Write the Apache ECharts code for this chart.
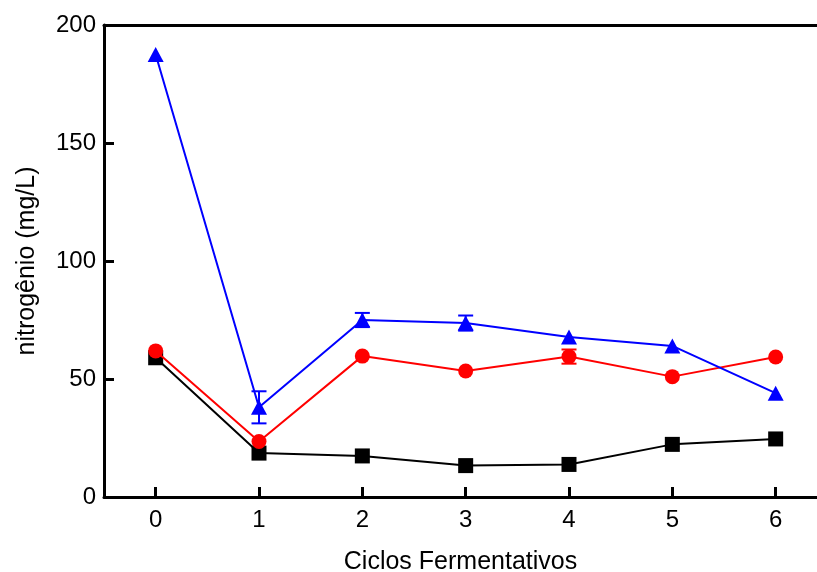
<!DOCTYPE html>
<html>
<head>
<meta charset="utf-8">
<script src="https://cdn.jsdelivr.net/npm/echarts@6/dist/echarts.min.js"></script>
<style>html,body{margin:0;padding:0;background:#fff}#c{width:817px;height:572px}</style>
</head>
<body>
<div id="c"></div>
<script>
var categories = [0, 1, 2, 3, 4, 5, 6];
var blackValues = [59, 18.6, 17.4, 13.3, 13.8, 22.3, 24.6];
var redValues = [61.9, 23.5, 59.7, 53.4, 59.5, 51, 59.3];
var blueValues = [187.5, 38, 75, 73.7, 67.8, 64, 44];
var blueErrors = [0, 6.8, 3, 3.2, 0, 0, 0];
var redErrors = [0, 0, 0, 0, 3, 0, 0];
var yTicks = [0, 50, 100, 150, 200];

function pairs(vals) {
  return vals.map(function (v, i) { return [categories[i], v]; });
}
function errData(vals, errs) {
  var out = [];
  for (var i = 0; i < vals.length; i++) {
    if (errs[i] > 0) out.push([categories[i], vals[i] - errs[i], vals[i] + errs[i]]);
  }
  return out;
}
function errSeries(vals, errs, color) {
  return {
    type: 'custom',
    z: 1,
    data: errData(vals, errs),
    renderItem: function (params, api) {
      var x = api.value(0);
      var lo = api.coord([x, api.value(1)]);
      var hi = api.coord([x, api.value(2)]);
      var hw = 7.5;
      var st = { stroke: color, lineWidth: 2 };
      return {
        type: 'group',
        children: [
          { type: 'line', shape: { x1: lo[0], y1: lo[1], x2: hi[0], y2: hi[1] }, style: st },
          { type: 'line', shape: { x1: lo[0] - hw, y1: lo[1], x2: lo[0] + hw, y2: lo[1] }, style: st },
          { type: 'line', shape: { x1: hi[0] - hw, y1: hi[1], x2: hi[0] + hw, y2: hi[1] }, style: st }
        ]
      };
    }
  };
}

var chart = echarts.init(document.getElementById('c'), null, { renderer: 'canvas' });
var font = 'Liberation Sans, Arial, sans-serif';
chart.setOption({
  animation: false,
  backgroundColor: '#fff',
  grid: { left: 104, top: 25, right: 0, bottom: 75, show: false, containLabel: false, outerBoundsMode: 'none' },
  xAxis: [{
    type: 'value',
    min: -0.5,
    max: 6.4,
    name: 'Ciclos Fermentativos',
    nameLocation: 'middle',
    nameGap: 53,
    nameTextStyle: { fontFamily: font, fontSize: 25, color: '#000' },
    axisLine: { onZero: false, lineStyle: { color: '#000', width: 3 } },
    axisTick: { inside: true, length: 10, customValues: categories, lineStyle: { color: '#000', width: 3 } },
    axisLabel: { fontFamily: font, fontSize: 24, color: '#000', margin: 11, customValues: categories },
    splitLine: { show: false }
  }, {
    type: 'value',
    position: 'top',
    min: -0.5,
    max: 6.4,
    axisLine: { show: true, onZero: false, lineStyle: { color: '#000', width: 3 } },
    axisTick: { show: false },
    axisLabel: { show: false },
    splitLine: { show: false }
  }],
  yAxis: {
    type: 'value',
    min: 0,
    max: 200,
    interval: 50,
    name: 'nitrogênio (mg/L)',
    nameLocation: 'middle',
    nameGap: 64,
    nameTextStyle: { fontFamily: font, fontSize: 25, color: '#000' },
    axisLine: { show: true, onZero: false, lineStyle: { color: '#000', width: 3 } },
    axisTick: { show: true, inside: true, length: 10, lineStyle: { color: '#000', width: 3 } },
    axisLabel: { fontFamily: font, fontSize: 24, color: '#000', margin: 8,
      formatter: function (v) { return yTicks.indexOf(v) >= 0 ? String(v) : ''; } },
    splitLine: { show: false }
  },
  series: [
    errSeries(redValues, redErrors, '#ff0000'),
    errSeries(blueValues, blueErrors, '#0000ff'),
    {
      type: 'line', data: pairs(blackValues), symbol: 'rect', symbolSize: 15,
      lineStyle: { color: '#000', width: 2 }, itemStyle: { color: '#000' }, z: 2
    },
    {
      type: 'line', data: pairs(redValues), symbol: 'circle', symbolSize: 15,
      lineStyle: { color: '#ff0000', width: 2 }, itemStyle: { color: '#ff0000' }, z: 3
    },
    {
      type: 'line', data: pairs(blueValues), symbol: 'triangle', symbolSize: [16, 15],
      lineStyle: { color: '#0000ff', width: 2 }, itemStyle: { color: '#0000ff' }, z: 4
    }
  ]
});
</script>
</body>
</html>
